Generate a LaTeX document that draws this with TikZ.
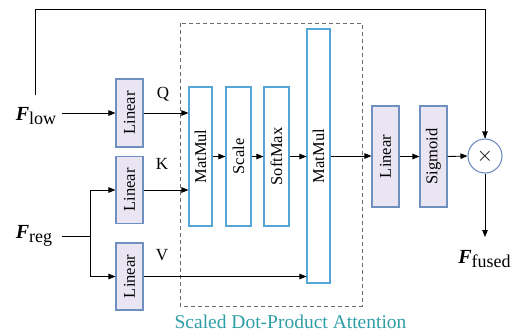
\documentclass[tikz,border=0pt]{standalone}
\usepackage{fontspec}
\setmainfont{Liberation Serif}
\usetikzlibrary{arrows.meta,calc}
\definecolor{lavfill}{HTML}{E9E5F3}
\definecolor{lavdraw}{HTML}{6F8FC0}
\definecolor{wdraw}{HTML}{55A5D5}
\definecolor{teal2}{HTML}{2E9EA6}
\begin{document}
\begin{tikzpicture}[x=1pt,y=-1pt,
  linbox/.style={draw=lavdraw,fill=lavfill,line width=1.1pt,minimum width=27pt,inner sep=0pt,font=\fontsize{16.5}{18}\selectfont},
  wbox/.style={draw=wdraw,fill=white,line width=1.1pt,inner sep=0pt,font=\fontsize{16.5}{18}\selectfont},
  arr/.style={-{Triangle[length=7pt,width=5.5pt]},line width=0.9pt},
  ln/.style={line width=0.9pt},
  lbl/.style={font=\fontsize{17}{19}\selectfont,inner sep=0pt}]
\useasboundingbox (0,0) rectangle (518,333);
% dashed attention box
\draw[gray!85!black,line width=0.9pt,dash pattern=on 4pt off 3pt] (180,23) rectangle (362,306);
% inputs
\node[inner sep=0pt] (Flow) at (36,116) {\fontsize{20}{22}\selectfont\textbf{\textit{F}}\raisebox{-4pt}{\fontsize{18}{20}\selectfont low}};
\node[inner sep=0pt] (Freg) at (34,236) {\fontsize{20}{22}\selectfont\textbf{\textit{F}}\raisebox{-4pt}{\fontsize{18}{20}\selectfont reg}};
% linear boxes
\node[linbox,minimum height=68pt] (LinQ) at (129.5,113) {\rotatebox{90}{Linear}};
\node[linbox,minimum height=67pt] (LinK) at (129.5,190) {\rotatebox{90}{Linear}};
\node[linbox,minimum height=67pt] (LinV) at (129.5,276.5) {\rotatebox{90}{Linear}};
% attention boxes
\node[wbox,minimum width=23pt,minimum height=139pt] (MM1) at (200.5,156.5) {\rotatebox{90}{MatMul}};
\node[wbox,minimum width=25pt,minimum height=139pt] (Sc) at (238.5,156.5) {\rotatebox{90}{Scale}};
\node[wbox,minimum width=25pt,minimum height=139pt] (SM) at (276.5,156.5) {\rotatebox{90}{SoftMax}};
\node[wbox,minimum width=23pt,minimum height=254pt] (MM2) at (318.5,156) {\rotatebox{90}{MatMul}};
% right side
\node[linbox,minimum height=101pt] (LinR) at (385.5,156.5) {\rotatebox{90}{Linear}};
\node[linbox,minimum height=101pt] (Sig) at (433.5,156.5) {\rotatebox{90}{Sigmoid}};
\node[circle,draw=lavdraw,line width=1.1pt,minimum size=34pt,inner sep=0pt] (mul) at (485,156) {\fontsize{22}{22}\selectfont$\times$};
\node[inner sep=0pt] (Ffused) at (484.5,259) {\fontsize{20}{22}\selectfont\textbf{\textit{F}}\raisebox{-4pt}{\fontsize{18}{20}\selectfont fused}};
% labels
\node[lbl] (Ql) at (163,94) {Q};
\node[lbl] (Kl) at (162,164) {K};
\node[lbl] (Vl) at (162,255) {V};
\node[text=teal2,inner sep=0pt,font=\fontsize{19.5}{21}\selectfont] (cap) at (290.5,322) {Scaled Dot-Product Attention};
% connectors
\coordinate (top) at (35,9.5);
\coordinate (split) at (90,236);
\coordinate (lowend) at (35,95);
\draw[arr,shorten <=6pt] (Flow.east |- LinQ) -- (LinQ.west);
\draw[ln] (lowend) -- (top) -| (mul.north);
\draw[arr] (top -| mul.north) -- (mul.north);
\draw[ln,shorten <=10pt] (Freg.east) -- (split);
\draw[arr] (split) |- (LinK.west);
\draw[arr] (split) |- (LinV.west);
\draw[arr] (LinQ.east) -- (LinQ.east -| MM1.west);
\draw[arr] (LinK.east) -- (LinK.east -| MM1.west);
\draw[arr] (LinV.east) -- (LinV.east -| MM2.west);
\draw[arr] (MM1.east) -- (Sc.west);
\draw[arr] (Sc.east) -- (SM.west);
\draw[arr] (SM.east) -- (SM.east -| MM2.west);
\draw[arr] (MM2.east) -- (MM2.east -| LinR.west);
\draw[arr] (LinR.east) -- (Sig.west);
\draw[arr] (Sig.east) -- (mul.west);
\draw[arr] (mul.south) -- (mul.south |- 0,237);
\end{tikzpicture}
\end{document}
